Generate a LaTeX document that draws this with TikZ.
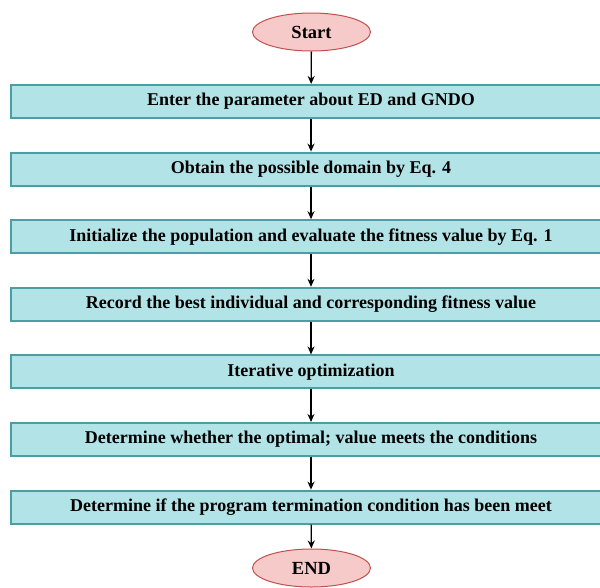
\documentclass[tikz,border=0pt]{standalone}
\usepackage{fontspec}
\setmainfont{Liberation Serif}
\usetikzlibrary{shapes.geometric,arrows.meta}
\definecolor{boxfill}{HTML}{B2E4E7}
\definecolor{boxline}{HTML}{4A9FA5}
\definecolor{ovalfill}{HTML}{F7CACA}
\definecolor{ovalline}{HTML}{C0504D}
\tikzset{
  stepbox/.style={draw=boxline, line width=2pt, fill=boxfill, minimum width=600pt, minimum height=33pt, inner sep=0pt, font=\bfseries\fontsize{18}{20}\selectfont},
  terminal/.style={ellipse, draw=ovalline, line width=1pt, fill=ovalfill, minimum width=118pt, minimum height=38pt, inner sep=0pt, font=\bfseries\fontsize{18.5}{20}\selectfont},
  flow/.style={-{Stealth[length=8pt,width=7pt]}, line width=1.3pt, black}
}
\begin{document}
\begin{tikzpicture}[x=1pt,y=-1pt]
\clip (0,0) rectangle (600,587);
\fill[white] (0,0) rectangle (600,587);
\node[terminal] (start) at (311.5,32) {Start};
\node[stepbox] (b1) at (311,101.5) {Enter the parameter about ED and GNDO};
\node[stepbox] (b2) at (311,169.1) {Obtain the possible domain by Eq. 4};
\node[stepbox] (b3) at (311,236.7) {Initialize the population and evaluate the fitness value by Eq. 1};
\node[stepbox] (b4) at (311,304.3) {Record the best individual and corresponding fitness value};
\node[stepbox] (b5) at (311,371.9) {Iterative optimization};
\node[stepbox] (b6) at (311,439.5) {Determine whether the optimal; value meets the conditions};
\node[stepbox] (b7) at (311,507.1) {Determine if the program termination condition has been meet};
\node[terminal] (end) at (311.5,568) {END};
\draw[flow] (start) -- (b1);
\draw[flow] (b1) -- (b2);
\draw[flow] (b2) -- (b3);
\draw[flow] (b3) -- (b4);
\draw[flow] (b4) -- (b5);
\draw[flow] (b5) -- (b6);
\draw[flow] (b6) -- (b7);
\draw[flow] (b7) -- (end);
\end{tikzpicture}
\end{document}
